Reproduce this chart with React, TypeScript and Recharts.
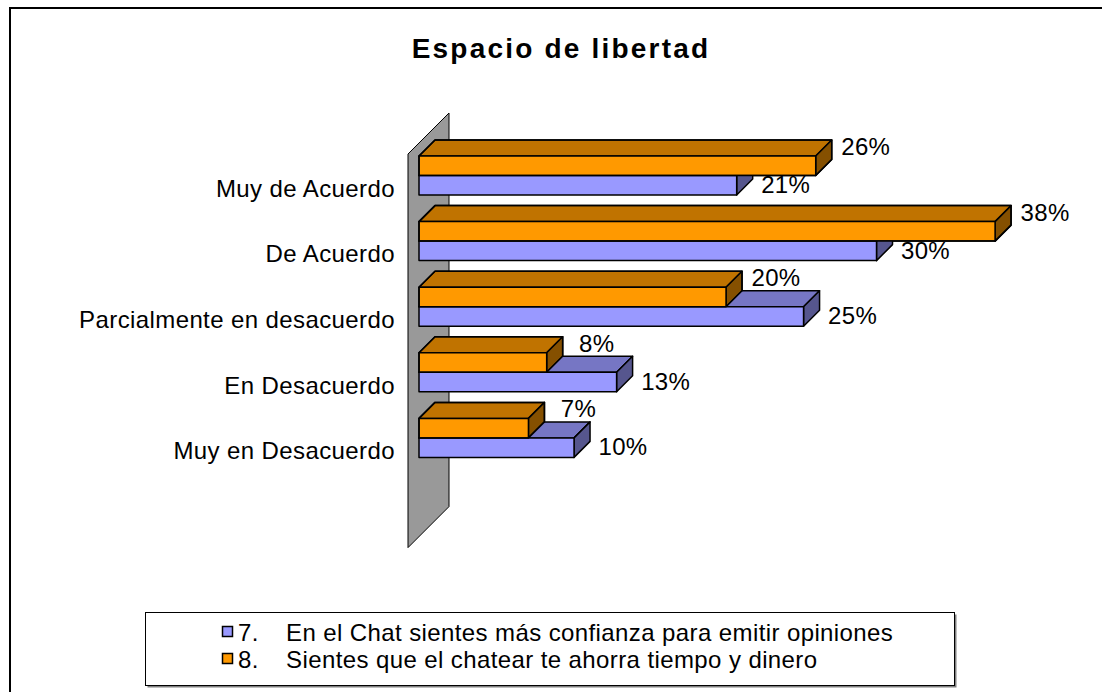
import React from "react";
import { BarChart, Bar, XAxis, YAxis, LabelList } from "recharts";

const categories = [
  "Muy de Acuerdo",
  "De Acuerdo",
  "Parcialmente en desacuerdo",
  "En Desacuerdo",
  "Muy en Desacuerdo",
];
// 7. En el Chat sientes más confianza para emitir opiniones
const confianza = [20.9, 30.1, 25.3, 13.0, 10.2];
// 8. Sientes que el chatear te ahorra tiempo y dinero
const ahorro = [26.1, 37.9, 20.2, 8.4, 7.2];

const legendItems = [
  { key: "confianza", num: "7.", label: "En el Chat sientes más confianza para emitir opiniones" },
  { key: "ahorro", num: "8.", label: "Sientes que el chatear te ahorra tiempo y dinero" },
];

const data = categories.map((name, i) => ({
  name,
  confianza: confianza[i],
  ahorro: ahorro[i],
}));

const W = 1102;
const H = 692;
const FONT = '"Liberation Sans", Arial, sans-serif';

// layout of the bar plane
const PLOT_LEFT = 419;
const PLOT_TOP = 143;
const BAND = 65.6;
const PLOT_BOTTOM = PLOT_TOP + BAND * categories.length;
const DEPTH = 16; // projected depth of a bar
const OFF = 11; // bars sit this far behind the front edge of the wall
const WALL = 41; // projected depth of the wall

const COLORS: Record<string, { front: string; top: string; side: string }> = {
  confianza: { front: "#9999FF", top: "#7676C4", side: "#56568E" },
  ahorro: { front: "#FF9900", top: "#C07300", side: "#855000" },
};

function boxPaths(x: number, y: number, w: number, h: number) {
  const d = DEPTH;
  return {
    top: `M${x},${y}L${x + d},${y - d}L${x + w + d},${y - d}L${x + w},${y}Z`,
    side: `M${x + w},${y}L${x + w + d},${y - d}L${x + w + d},${y + h - d}L${x + w},${y + h}Z`,
    outline: `M${x},${y + h}L${x},${y}L${x + d},${y - d}L${x + w + d},${y - d}L${x + w + d},${y + h - d}L${x + w},${y + h}Z`,
  };
}

function Box({ x, y, w, h, c }: { x: number; y: number; w: number; h: number; c: { front: string; top: string; side: string } }) {
  const p = boxPaths(x, y, w, h);
  return (
    <g stroke="#000" strokeWidth={1.5} strokeLinejoin="round">
      <path d={p.top} fill={c.top} />
      <path d={p.side} fill={c.side} />
      <rect x={x} y={y} width={w} height={h} fill={c.front} />
    </g>
  );
}

function AhorroShape(props: any) {
  const { x, y, width, height } = props;
  return <Box x={x} y={y} w={width} h={height} c={COLORS.ahorro} />;
}

// the blue bar is painted after the orange one, so hide whatever lies behind the orange box
function ConfianzaShape(props: any) {
  const { x, y, width, height, index, payload } = props;
  const perUnit = width / payload.confianza;
  const orangeW = payload.ahorro * perUnit;
  const orange = boxPaths(x, y - height, orangeW, height);
  const id = `behind-orange-${index}`;
  return (
    <g>
      <defs>
        <clipPath id={id}>
          <path clipRule="evenodd" d={`M0,0H${W}V${H}H0Z ${orange.outline}`} />
        </clipPath>
      </defs>
      <g clipPath={`url(#${id})`}>
        <Box x={x} y={y} w={width} h={height} c={COLORS.confianza} />
      </g>
      <path d={orange.outline} fill="none" stroke="#000" strokeWidth={1.5} strokeLinejoin="round" />
    </g>
  );
}

function AhorroLabel(props: any) {
  const { x, y, width, value } = props;
  return (
    <text x={x + width + 50} y={y - 1} textAnchor="middle" fontSize={24} letterSpacing={0.3} fill="#000" fontFamily={FONT}>
      {Math.round(value)}%
    </text>
  );
}

function ConfianzaLabel(props: any) {
  const { x, y, width, value } = props;
  return (
    <text x={x + width + 49} y={y + 17.5} textAnchor="middle" fontSize={24} letterSpacing={0.3} fill="#000" fontFamily={FONT}>
      {Math.round(value)}%
    </text>
  );
}

function CategoryTick(props: any) {
  const { x, y, payload } = props;
  return (
    <text x={x} y={y + 21} textAnchor="end" fontSize={24} letterSpacing={0.4} fill="#000" fontFamily={FONT}>
      {payload.value}
    </text>
  );
}

export default function App() {
  // left wall, drawn one empty band deeper than the last category like the original
  const fx = PLOT_LEFT - OFF;
  const fTop = PLOT_TOP + OFF;
  const fBottom = PLOT_BOTTOM + BAND + OFF;
  const wall = `M${fx},${fTop}L${fx + WALL},${fTop - WALL}L${fx + WALL},${fBottom - WALL}L${fx},${fBottom}Z`;

  return (
    <div
      style={{
        position: "fixed",
        left: 0,
        top: 0,
        width: W,
        height: H,
        overflow: "hidden",
        background: "#fff",
        fontFamily: FONT,
      }}
    >
      <svg width={W} height={H} style={{ position: "absolute", left: 0, top: 0 }} fontFamily={FONT}>
        <rect x={10} y={8} width={W + 20} height={H + 20} fill="#fff" stroke="#000" strokeWidth={2} />
        <text x={561} y={58} textAnchor="middle" fontWeight="bold" fontSize={28} letterSpacing={2.2} fill="#000">
          Espacio de libertad
        </text>
        <path d={wall} fill="#999999" stroke="#000" strokeWidth={1} />

        <rect x={147.5} y={614.5} width={809} height={73} fill="#808080" />
        <rect x={145.5} y={612.5} width={809} height={73} fill="#fff" stroke="#000" strokeWidth={1} />
        {legendItems.map((item, i) => {
          const y0 = 626 + i * 27;
          return (
            <g key={item.key}>
              <rect x={222.5} y={y0 + 0.5} width={10} height={10} fill={COLORS[item.key].front} stroke="#000" strokeWidth={1.5} />
              <text x={238} y={y0 + 15} fontSize={24} letterSpacing={0.4} fill="#000">
                {item.num}
              </text>
              <text x={286} y={y0 + 15} fontSize={24} letterSpacing={0.4} fill="#000">
                {item.label}
              </text>
            </g>
          );
        })}
      </svg>

      <div style={{ position: "absolute", left: 0, top: 0 }}>
        <BarChart
          width={W}
          height={H}
          data={data}
          layout="vertical"
          margin={{ top: PLOT_TOP, right: W - PLOT_LEFT - 608, bottom: H - PLOT_BOTTOM, left: 0 }}
          barGap={0}
        >
          <XAxis type="number" domain={[0, 40]} hide />
          <YAxis
            type="category"
            dataKey="name"
            width={PLOT_LEFT}
            axisLine={false}
            tickLine={false}
            tickSize={0}
            tickMargin={24}
            interval={0}
            tick={<CategoryTick />}
          />
          <Bar dataKey="ahorro" barSize={19.5} shape={AhorroShape} isAnimationActive={false}>
            <LabelList dataKey="ahorro" content={AhorroLabel} />
          </Bar>
          <Bar dataKey="confianza" barSize={19.5} shape={ConfianzaShape} isAnimationActive={false}>
            <LabelList dataKey="confianza" content={ConfianzaLabel} />
          </Bar>
        </BarChart>
      </div>
    </div>
  );
}
